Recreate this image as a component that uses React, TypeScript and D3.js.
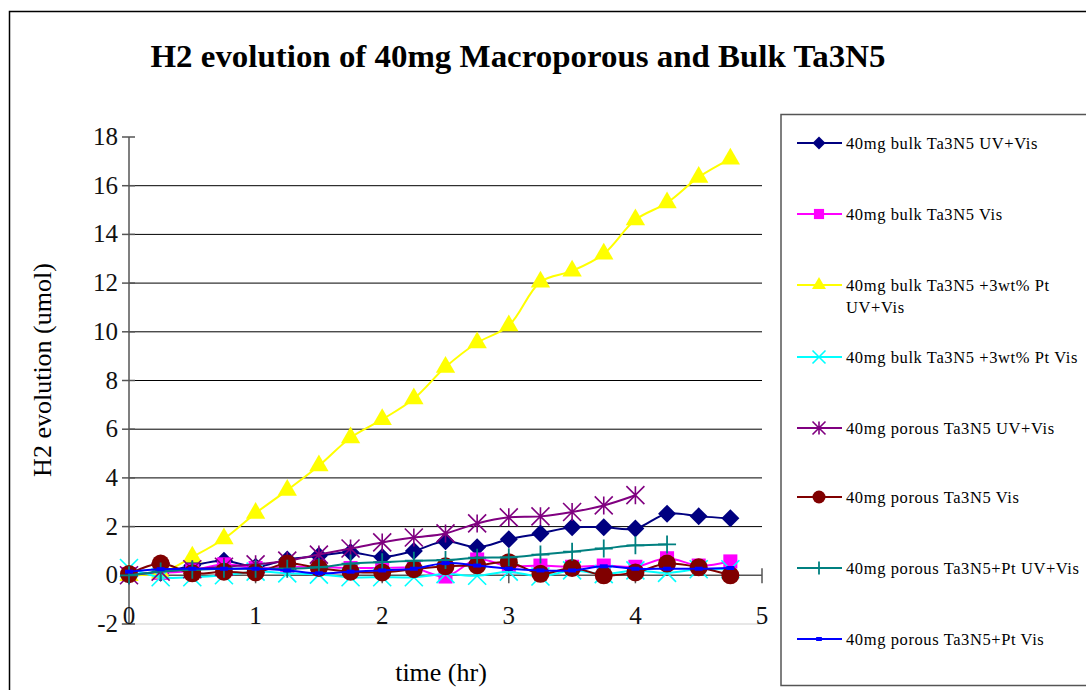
import * as d3 from "d3";

const time = [0, 0.25, 0.5, 0.75, 1, 1.25, 1.5, 1.75, 2, 2.25, 2.5, 2.75, 3, 3.25, 3.5, 3.75, 4, 4.25, 4.5, 4.75];

const bulkUvVis = [0, 0.1, 0.4, 0.6, 0.35, 0.65, 0.8, 0.95, 0.75, 1.0, 1.4, 1.15, 1.48, 1.72, 1.97, 1.97, 1.92, 2.53, 2.42, 2.34];
const bulkVis = [0.05, 0.1, 0.2, 0.45, 0.3, 0.35, 0.35, 0.3, 0.3, 0.3, -0.05, 0.65, 0.37, 0.4, 0.35, 0.4, 0.35, 0.7, 0.4, 0.57];
const bulkPtUvVis = [0, 0.1, 0.75, 1.5, 2.55, 3.5, 4.5, 5.65, 6.4, 7.25, 8.55, 9.55, 10.25, 12.05, 12.5, 13.2, 14.6, 15.3, 16.35, 17.1];
const bulkPtVis = [0.3, -0.08, -0.08, 0.0, 0.15, 0.08, 0.03, -0.08, -0.08, -0.08, 0.05, -0.02, 0.15, -0.05, 0.2, 0.05, 0.2, 0.1, 0.25, 0.25];
const porousUvVis = [0, 0.15, 0.25, 0.35, 0.45, 0.6, 0.85, 1.1, 1.35, 1.55, 1.72, 2.13, 2.38, 2.42, 2.6, 2.87, 3.29];
const porousVis = [0.05, 0.48, 0.08, 0.15, 0.12, 0.48, 0.3, 0.15, 0.12, 0.25, 0.37, 0.41, 0.54, 0.06, 0.3, 0.0, 0.12, 0.48, 0.33, 0.0];
const porousPtUvVis = [0, 0.16, 0.23, 0.27, 0.27, 0.27, 0.33, 0.48, 0.54, 0.6, 0.63, 0.72, 0.74, 0.85, 0.97, 1.1, 1.23, 1.27];
const porousPtVis = [0.15, 0.25, 0.27, 0.27, 0.27, 0.2, 0.08, 0.15, 0.2, 0.27, 0.5, 0.4, 0.27, 0.2, 0.2, 0.37, 0.27, 0.27, 0.27, 0.3];

const seriesNames = [
  "40mg bulk Ta3N5 UV+Vis",
  "40mg bulk Ta3N5 Vis",
  "40mg bulk Ta3N5 +3wt% Pt|UV+Vis",
  "40mg bulk Ta3N5 +3wt% Pt Vis",
  "40mg porous Ta3N5 UV+Vis",
  "40mg porous Ta3N5 Vis",
  "40mg porous Ta3N5+Pt UV+Vis",
  "40mg porous Ta3N5+Pt Vis",
];
const seriesValues = [bulkUvVis, bulkVis, bulkPtUvVis, bulkPtVis, porousUvVis, porousVis, porousPtUvVis, porousPtVis];
const seriesColors = ["#000080", "#FF00FF", "#FFFF00", "#00FFFF", "#800080", "#800000", "#008080", "#0000FF"];
const seriesMarkers = ["diamond", "square", "triangle", "x", "star", "circle", "plus", "dash"];

const yTicks = [-2, 0, 2, 4, 6, 8, 10, 12, 14, 16, 18];
const xTicks = [0, 1, 2, 3, 4, 5];

const FONT = "'Liberation Serif', 'DejaVu Serif', serif";

function Marker({ kind, x, y, color, s }: { kind: string; x: number; y: number; color: string; s: number }) {
  const h = s / 2;
  if (kind === "diamond") {
    return <path d={`M${x},${y - h}L${x + h},${y}L${x},${y + h}L${x - h},${y}Z`} fill={color} />;
  }
  if (kind === "square") {
    const q = s * 0.78;
    return <rect x={x - q / 2} y={y - q / 2} width={q} height={q} fill={color} />;
  }
  if (kind === "triangle") {
    return <path d={d3.symbol(d3.symbolTriangle, s * s * 0.5)()!} transform={`translate(${x},${y})`} fill={color} />;
  }
  if (kind === "circle") {
    return <circle cx={x} cy={y} r={h} fill={color} />;
  }
  if (kind === "x") {
    return <path d={`M${x - h},${y - h}L${x + h},${y + h}M${x - h},${y + h}L${x + h},${y - h}`} stroke={color} strokeWidth={1.6} fill="none" />;
  }
  if (kind === "plus") {
    return <path d={`M${x - h},${y}L${x + h},${y}M${x},${y - h}L${x},${y + h}`} stroke={color} strokeWidth={1.8} fill="none" />;
  }
  if (kind === "star") {
    return (
      <path
        d={`M${x - h},${y - h}L${x + h},${y + h}M${x - h},${y + h}L${x + h},${y - h}M${x},${y - h}L${x},${y + h}`}
        stroke={color}
        strokeWidth={1.6}
        fill="none"
      />
    );
  }
  // dash
  return <rect x={x - s * 0.22} y={y - 2} width={s * 0.44} height={4} fill={color} />;
}

export default function App() {
  const width = 1086;
  const height = 690;

  const x = d3.scaleLinear().domain([0, 5]).range([129, 762]);
  const y = d3.scaleLinear().domain([-2, 18]).range([624, 137]);

  const line = d3
    .line<number>()
    .x((_, i) => x(time[i]))
    .y((d) => y(d))
    .curve(d3.curveCatmullRom.alpha(0.5));

  const legendX = 780;
  const legendRows = [143, 214, 285, 357, 428, 497, 568, 639];

  return (
    <svg
      width={width}
      height={height}
      style={{ position: "absolute", left: 0, top: 0, background: "#fff" }}
      fontFamily={FONT}
    >
      {/* outer frame */}
      <rect x={9.5} y={11.5} width={1090} height={700} fill="none" stroke="#000" strokeWidth={1.5} />

      <text
        x={518}
        y={67}
        textAnchor="middle"
        fontSize={32}
        fontWeight="bold"
        textLength={735}
        lengthAdjust="spacingAndGlyphs"
      >
        H2 evolution of 40mg Macroporous and Bulk Ta3N5
      </text>

      {/* gridlines */}
      {yTicks
        .filter((t) => t > 0 && t < 18)
        .map((t) => (
          <line key={`g${t}`} x1={x(0)} x2={x(5)} y1={y(t)} y2={y(t)} stroke="#000" strokeWidth={1} />
        ))}
      <line x1={x(0) - 8} x2={x(5)} y1={y(-2)} y2={y(-2)} stroke="#d0d0d0" strokeWidth={1.2} />

      {/* y axis */}
      <line x1={x(0)} x2={x(0)} y1={y(18)} y2={y(-2)} stroke="#555" strokeWidth={1.5} />
      {yTicks.map((t) => (
        <g key={`y${t}`}>
          <line x1={x(0) - 7} x2={x(0) + 6} y1={y(t)} y2={y(t)} stroke="#555" strokeWidth={1.5} />
          <text x={118} y={y(t) + 8} textAnchor="end" fontSize={25} fill="#111">
            {t}
          </text>
        </g>
      ))}

      {/* x axis at y=0 */}
      <line x1={x(0)} x2={x(5)} y1={y(0)} y2={y(0)} stroke="#555" strokeWidth={1.5} />
      {xTicks.map((t) => (
        <g key={`x${t}`}>
          <line x1={x(t)} x2={x(t)} y1={y(0) - 7} y2={y(0) + 8} stroke="#555" strokeWidth={1.5} />
          <text x={x(t)} y={624} textAnchor="middle" fontSize={25} fill="#111">
            {t}
          </text>
        </g>
      ))}

      <text x={0} y={0} transform="translate(51,370) rotate(-90)" textAnchor="middle" fontSize={26}>
        H2 evolution (umol)
      </text>
      <text x={441} y={681} textAnchor="middle" fontSize={26}>
        time (hr)
      </text>

      {/* series */}
      {seriesValues.map((vals, si) => (
        <g key={`s${si}`}>
          <path d={line(vals)!} fill="none" stroke={seriesColors[si]} strokeWidth={2} />
          {vals.map((v, i) => (
            <Marker key={i} kind={seriesMarkers[si]} x={x(time[i])} y={y(v)} color={seriesColors[si]} s={18} />
          ))}
        </g>
      ))}

      {/* legend */}
      <rect x={legendX + 1} y={114.5} width={320} height={571} fill="#fff" stroke="#555" strokeWidth={1.5} />
      {seriesNames.map((name, i) => {
        const ly = legendRows[i];
        const parts = name.split("|");
        return (
          <g key={`l${i}`}>
            <line x1={797} x2={842} y1={ly} y2={ly} stroke={seriesColors[i]} strokeWidth={2} />
            <Marker kind={seriesMarkers[i]} x={819} y={ly} color={seriesColors[i]} s={13} />
            {parts.map((p, k) => (
              <text key={k} x={846} y={ly + 6 + k * 22} fontSize={16.5} letterSpacing={0.6} fill="#000">
                {p}
              </text>
            ))}
          </g>
        );
      })}
    </svg>
  );
}
